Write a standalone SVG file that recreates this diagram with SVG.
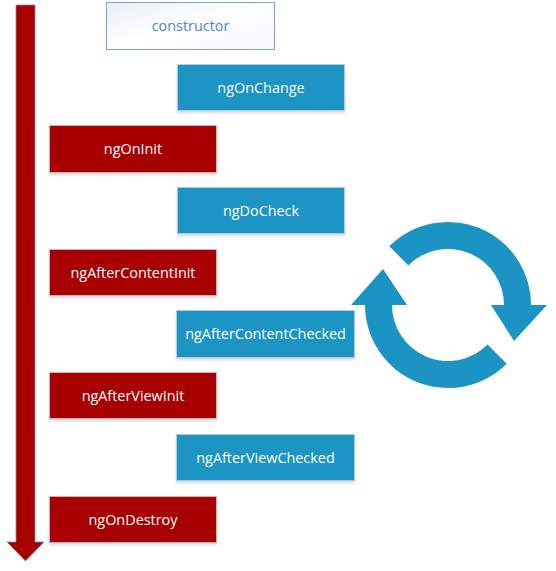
<svg xmlns="http://www.w3.org/2000/svg" width="556" height="571" viewBox="0 0 556 571">
<defs>
<linearGradient id="g" x1="0" y1="0" x2="1" y2="1"><stop offset="0" stop-color="#e9eef8"/><stop offset="0.5" stop-color="#ffffff"/><stop offset="1" stop-color="#f4f6fb"/></linearGradient>
<filter id="sh" x="-10%" y="-10%" width="120%" height="130%"><feDropShadow dx="0" dy="2" stdDeviation="1.5" flood-color="#8090b0" flood-opacity="0.35"/></filter>
</defs>
<style>
.red{fill:#a80000;stroke:#c9b2b8;stroke-width:1;filter:url(#sh)}
.blue{fill:#1b94c4;stroke:#b9c7d3;stroke-width:1;filter:url(#sh)}
.ctor{fill:url(#g);stroke:#7ea3cd;stroke-width:1}
text{font-family:"Open Sans","Noto Sans","Liberation Sans",sans-serif;font-size:14.4px;text-anchor:middle;dominant-baseline:central;fill:#ffffff}
.ct{fill:#4f86c2}
.cyc{fill:#1b94c4}
</style>
<g id="connectors">
<path id="timeline" d="M16 5 H35 V542 H44 L25.5 561 L7 542 H16 Z" fill="#a80000" stroke="#7f8fa8" stroke-width="0.8"/>
<path id="cycle-top" class="cyc" d="M408.4 265.4 L389.3 246.3 A83 83 0 0 1 531 305 L547 305 L514 341 L491 305 L504 305 A56 56 0 0 0 408.4 265.4 Z"/>
<path id="cycle-bottom" class="cyc" d="M487.6 344.6 L506.7 363.7 A83 83 0 0 1 365 305 L351 305 L383 269 L407 305 L392 305 A56 56 0 0 0 487.6 344.6 Z"/>
</g>
<g id="constructor"><rect class="ctor" x="106.5" y="2.5" width="168" height="47"/><text class="ct" x="190.5" y="25.5">constructor</text></g>
<g id="ngOnChange"><rect class="blue" x="177.5" y="64.5" width="167" height="46"/><text x="261" y="87">ngOnChange</text></g>
<g id="ngOnInit"><rect class="red" x="49.5" y="125.5" width="167" height="47"/><text x="133" y="148.5">ngOnInit</text></g>
<g id="ngDoCheck"><rect class="blue" x="177.5" y="187.5" width="167" height="46"/><text x="261" y="210">ngDoCheck</text></g>
<g id="ngAfterContentInit"><rect class="red" x="49.5" y="249.5" width="167" height="46"/><text x="133" y="272">ngAfterContentInit</text></g>
<g id="ngAfterContentChecked"><rect class="blue" x="176.5" y="310.5" width="178" height="47"/><text x="265.5" y="333.5">ngAfterContentChecked</text></g>
<g id="ngAfterViewInit"><rect class="red" x="49.5" y="372.5" width="167" height="46"/><text x="133" y="395">ngAfterViewInit</text></g>
<g id="ngAfterViewChecked"><rect class="blue" x="176.5" y="434.5" width="178" height="46"/><text x="265.5" y="457">ngAfterViewChecked</text></g>
<g id="ngOnDestroy"><rect class="red" x="49.5" y="496.5" width="167" height="46"/><text x="133" y="519">ngOnDestroy</text></g>
</svg>
